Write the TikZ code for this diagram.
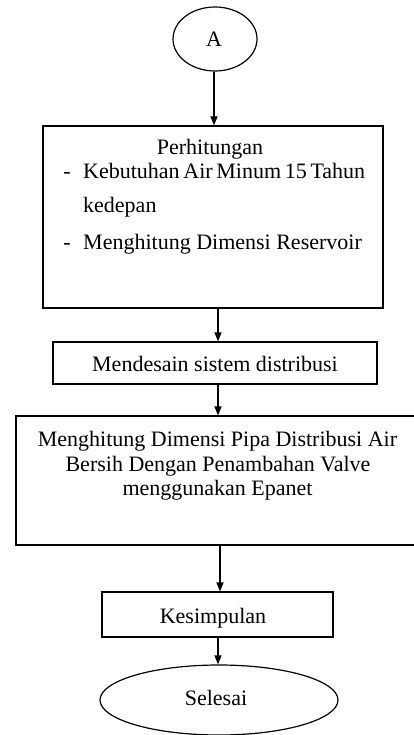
\documentclass[tikz,border=0pt]{standalone}
\usepackage{fontspec}
\setmainfont{Liberation Serif}
\usetikzlibrary{shapes.geometric,arrows.meta}
\begin{document}
\begin{tikzpicture}[x=1pt,y=-1pt,
  boxnode/.style={draw, rectangle, line width=1.2pt, inner sep=0pt},
  termnode/.style={draw, ellipse, line width=1.2pt, inner sep=0pt},
  txt/.style={font=\fontsize{22}{25}\selectfont, inner sep=0pt, anchor=base},
  arr/.style={line width=1.2pt, -{Triangle[length=9pt,width=7pt]}}]
\useasboundingbox (0,0) rectangle (414,735);
% shapes
\node[termnode, minimum width=84pt, minimum height=64pt] (a) at (215,39) {};
\node[boxnode, minimum width=340pt, minimum height=182pt] (b1) at (213,217) {};
\node[boxnode, minimum width=324pt, minimum height=42pt] (b2) at (215,363) {};
\node[boxnode, minimum width=406pt, minimum height=129pt] (b3) at (219,480.5) {};
\node[boxnode, minimum width=231pt, minimum height=45pt] (b4) at (217.5,614.5) {};
\node[termnode, minimum width=238pt, minimum height=70pt] (s) at (219,700) {};
% texts
\node[txt] (ta) at (214,47) {A};
\node[txt] (t1) at (210,155) {Perhitungan};
\node[txt] (d1) at (67,179) {-};
\node[txt, anchor=base west] (t2) at (83,179) {\makebox[280pt][s]{Kebutuhan Air Minum 15 Tahun}};
\node[txt, anchor=base west] (t3) at (83,213) {kedepan};
\node[txt] (d2) at (67,249) {-};
\node[txt, anchor=base west] (t4) at (83,249) {Menghitung Dimensi Reservoir};
\node[txt] (t5) at (215,371) {Mendesain sistem distribusi};
\node[txt] (t6) at (217.5,446) {Menghitung Dimensi Pipa Distribusi Air};
\node[txt] (t7) at (218,471) {Bersih Dengan Penambahan Valve};
\node[txt] (t8) at (217.5,495) {menggunakan Epanet};
\node[txt] (t9) at (213,623) {Kesimpulan};
\node[txt] (t10) at (216,705) {Selesai};
% connectors
\coordinate (c1) at (214,0);
\coordinate (c2) at (218,0);
\coordinate (c3) at (220,0);
\coordinate (c4) at (218,0);
\draw[arr] (a.south -| c1) -- (b1.north -| c1);
\draw[arr] (b1.south -| c2) -- (b2.north -| c2);
\draw[arr] (b2.south -| c2) -- (b3.north -| c2);
\draw[arr] (b3.south -| c3) -- (b4.north -| c3);
\draw[arr] (b4.south -| c4) -- (s.north -| c4);
\end{tikzpicture}
\end{document}
